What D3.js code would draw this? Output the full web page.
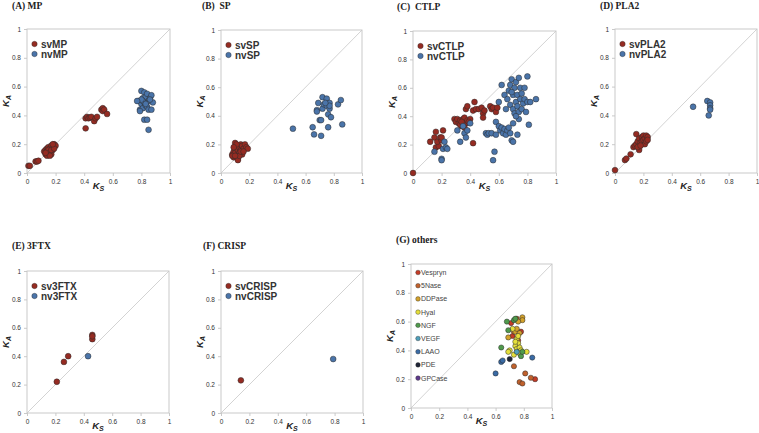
<!DOCTYPE html>
<html><head><meta charset="utf-8">
<script src="https://cdn.jsdelivr.net/npm/d3@7"></script>
<style>body{margin:0;background:#fff}svg{display:block}</style>
</head><body>
<svg id="c" width="759" height="433"></svg>
<script>
// ---- DATA (Ks, Ka) ----
const svMP = [[0.01,0.05],[0.02,0.05],[0.06,0.08],[0.07,0.08],[0.08,0.085],
 [0.12,0.15],[0.13,0.13],[0.13,0.16],[0.14,0.17],[0.14,0.12],[0.15,0.14],[0.15,0.18],[0.16,0.15],[0.16,0.17],
 [0.17,0.19],[0.17,0.13],[0.18,0.16],[0.18,0.18],[0.19,0.2],[0.2,0.19],[0.14,0.15],[0.16,0.12],[0.15,0.16],
 [0.17,0.16],[0.19,0.17],[0.13,0.14],[0.18,0.2],
 [0.41,0.38],[0.42,0.39],[0.43,0.38],[0.44,0.385],[0.45,0.39],[0.41,0.31],[0.47,0.36],[0.48,0.38],[0.49,0.39],
 [0.52,0.44],[0.53,0.45],[0.53,0.43],[0.54,0.44],[0.56,0.41]];
const nvMP = [[0.78,0.5],[0.8,0.57],[0.81,0.52],[0.82,0.56],[0.83,0.53],[0.84,0.55],[0.85,0.5],[0.86,0.52],[0.87,0.54],
 [0.88,0.49],[0.8,0.48],[0.79,0.44],[0.81,0.45],[0.82,0.49],[0.83,0.47],[0.84,0.46],[0.85,0.44],[0.87,0.44],
 [0.79,0.43],[0.81,0.5],[0.82,0.37],[0.84,0.37],[0.85,0.3],[0.86,0.51],[0.83,0.48],[0.8,0.51],[0.77,0.5]];
const svSP = [[0.08,0.13],[0.09,0.15],[0.09,0.11],[0.1,0.21],[0.1,0.17],[0.1,0.14],[0.11,0.19],[0.11,0.12],[0.12,0.16],
 [0.12,0.1],[0.13,0.18],[0.13,0.14],[0.14,0.2],[0.14,0.16],[0.15,0.13],[0.15,0.19],[0.16,0.17],[0.17,0.2],[0.18,0.18],
 [0.19,0.17],[0.12,0.09],[0.11,0.2],[0.09,0.18],[0.08,0.12],[0.13,0.12],[0.14,0.15],[0.16,0.15],[0.1,0.12]];
const nvSP = [[0.51,0.31],[0.65,0.32],[0.66,0.27],[0.68,0.44],[0.68,0.43],[0.69,0.49],[0.7,0.37],[0.71,0.26],[0.71,0.37],
 [0.72,0.53],[0.72,0.45],[0.73,0.48],[0.75,0.52],[0.75,0.47],[0.76,0.32],[0.76,0.41],[0.77,0.49],[0.77,0.45],[0.77,0.47],
 [0.78,0.39],[0.83,0.48],[0.85,0.51],[0.86,0.34],[0.74,0.49]];
const svCTLP = [[0,0],[0.12,0.22],[0.15,0.25],[0.16,0.29],[0.16,0.18],[0.18,0.19],[0.17,0.22],[0.19,0.25],[0.2,0.23],
 [0.21,0.3],[0.2,0.25],[0.29,0.38],[0.3,0.36],[0.31,0.38],[0.32,0.35],[0.33,0.37],[0.34,0.33],[0.35,0.38],[0.35,0.36],
 [0.36,0.39],[0.37,0.35],[0.38,0.37],[0.33,0.34],[0.36,0.32],[0.37,0.45],[0.38,0.47],[0.4,0.38],[0.42,0.44],[0.43,0.5],
 [0.42,0.21],[0.44,0.45],[0.46,0.45],[0.48,0.46],[0.49,0.42],[0.49,0.39],[0.5,0.44],[0.54,0.47],[0.55,0.45],[0.56,0.46],
 [0.58,0.43],[0.59,0.46],[0.39,0.36],[0.34,0.36]];
const nvCTLP = [[0.15,0.15],[0.2,0.1],[0.2,0.09],[0.21,0.17],[0.22,0.22],[0.23,0.18],[0.24,0.17],[0.31,0.3],[0.33,0.22],
 [0.35,0.33],[0.36,0.28],[0.37,0.25],[0.38,0.3],[0.4,0.35],[0.51,0.28],[0.52,0.27],[0.53,0.28],[0.55,0.28],[0.56,0.09],
 [0.57,0.15],[0.58,0.27],[0.58,0.36],[0.6,0.33],[0.61,0.3],[0.62,0.32],[0.63,0.28],[0.64,0.31],[0.65,0.27],[0.66,0.3],
 [0.67,0.32],[0.68,0.28],[0.69,0.23],[0.7,0.22],[0.7,0.35],[0.73,0.27],[0.6,0.5],[0.62,0.62],[0.64,0.55],[0.65,0.45],
 [0.66,0.52],[0.67,0.58],[0.68,0.62],[0.68,0.48],[0.69,0.66],[0.7,0.55],[0.7,0.45],[0.71,0.6],[0.71,0.42],[0.72,0.5],
 [0.72,0.64],[0.73,0.55],[0.73,0.47],[0.74,0.67],[0.74,0.43],[0.75,0.52],[0.75,0.6],[0.76,0.45],[0.76,0.56],[0.77,0.49],
 [0.78,0.52],[0.79,0.43],[0.8,0.68],[0.8,0.5],[0.81,0.34],[0.82,0.5],[0.86,0.52],[0.74,0.38],[0.72,0.4],[0.69,0.57],[0.78,0.6]];
const svPLA2 = [[0,0.02],[0.07,0.09],[0.08,0.1],[0.11,0.13],[0.13,0.18],[0.14,0.19],[0.15,0.27],[0.15,0.2],[0.16,0.22],
 [0.17,0.16],[0.17,0.24],[0.18,0.21],[0.19,0.25],[0.19,0.22],[0.2,0.26],[0.2,0.23],[0.21,0.24],[0.21,0.2],[0.22,0.26],
 [0.22,0.22],[0.23,0.25],[0.23,0.23],[0.16,0.18],[0.18,0.19]];
const nvPLA2 = [[0.55,0.46],[0.65,0.5],[0.66,0.4],[0.67,0.49],[0.67,0.47],[0.67,0.45],[0.67,0.44]];
const sv3FTX = [[0.21,0.22],[0.26,0.36],[0.29,0.4],[0.46,0.55],[0.46,0.52],[0.46,0.54]];
const nv3FTX = [[0.43,0.4]];
const svCRISP = [[0.14,0.23]];
const nvCRISP = [[0.79,0.38]];
const othersNames = ["Vespryn","5Nase","DDPase","Hyal","NGF","VEGF","LAAO","PDE","GPCase"];
const othersValues = [
 [[0.88,0.2],[0.71,0.59],[0.72,0.5],[0.76,0.47],[0.78,0.53]],
 [[0.77,0.18],[0.79,0.17],[0.81,0.24],[0.85,0.21],[0.73,0.29],[0.73,0.53],[0.75,0.62]],
 [[0.79,0.63],[0.79,0.61],[0.76,0.6],[0.69,0.49],[0.74,0.53],[0.77,0.52],[0.75,0.55]],
 [[0.75,0.48],[0.76,0.45],[0.74,0.43],[0.75,0.41],[0.77,0.42],[0.78,0.4],[0.73,0.37],[0.7,0.4],[0.69,0.39],[0.82,0.39],
  [0.76,0.5],[0.74,0.46],[0.72,0.55],[0.77,0.38]],
 [[0.68,0.6],[0.73,0.61],[0.69,0.54],[0.64,0.42],[0.78,0.36],[0.79,0.39],[0.74,0.62]],
 [[0.75,0.39]],
 [[0.6,0.24],[0.64,0.32],[0.65,0.33],[0.86,0.35]],
 [[0.7,0.34]],
 []
];
const tickValues = [0,0.2,0.4,0.6,0.8,1];
const tickLabels = ["0","0.2","0.4","0.6","0.8","1"];
const panelTitles = ["(A) MP","(B)  SP","(C)  CTLP","(D) PLA2","(E) 3FTX","(F) CRISP","(G) others"];

// ---- STYLE ----
const SV = "#952b22", NV = "#4a74a9";
const othersColors = ["#c43b26","#c0612c","#d3a22c","#e5df3a","#4f9a4c","#4f9fba","#3a6ba5","#1e2436","#5e3a8c"];

const layout = [
 {l:27,r:170,t:29,b:173,tx:12,ty:9},
 {l:221,r:362,t:30,b:173,tx:202,ty:9},
 {l:413,r:556,t:31,b:173,tx:397,ty:9.5},
 {l:615,r:757,t:29,b:173,tx:600,ty:9},
 {l:27,r:169,t:271,b:413,tx:12,ty:248.5},
 {l:221,r:363,t:271,b:413,tx:203,ty:248.5},
 {l:411,r:552,t:264,b:408,tx:396,ty:243}
];
const seriesSets = [
 [["svMP",svMP,SV],["nvMP",nvMP,NV]],
 [["svSP",svSP,SV],["nvSP",nvSP,NV]],
 [["svCTLP",svCTLP,SV],["nvCTLP",nvCTLP,NV]],
 [["svPLA2",svPLA2,SV],["nvPLA2",nvPLA2,NV]],
 [["sv3FTX",sv3FTX,SV],["nv3FTX",nv3FTX,NV]],
 [["svCRISP",svCRISP,SV],["nvCRISP",nvCRISP,NV]],
 othersNames.map((n,i)=>[n,othersValues[i],othersColors[i]])
];

const svg = d3.select("#c");
layout.forEach((L,pi)=>{
  const x = d3.scaleLinear().domain([0,1]).range([L.l,L.r]);
  const y = d3.scaleLinear().domain([0,1]).range([L.b,L.t]);
  const g = svg.append("g");
  g.append("text").attr("x",L.tx).attr("y",L.ty).attr("font-family","Liberation Serif, Times New Roman, serif")
   .attr("font-weight","bold").attr("font-size",9.5).attr("fill","#222").attr("xml:space","preserve")
   .style("white-space","pre").text(panelTitles[pi]);
  g.append("rect").attr("x",L.l).attr("y",L.t).attr("width",L.r-L.l).attr("height",L.b-L.t)
   .attr("fill","none").attr("stroke","#c4c4c4").attr("stroke-width",0.9);
  const xa = g.append("g").attr("transform",`translate(0,${L.b})`)
   .call(d3.axisBottom(x).tickValues(tickValues).tickFormat((d,i)=>tickLabels[i]).tickSize(3).tickPadding(3));
  const ya = g.append("g").attr("transform",`translate(${L.l},0)`)
   .call(d3.axisLeft(y).tickValues(tickValues).tickFormat((d,i)=>tickLabels[i]).tickSize(3).tickPadding(3));
  [xa,ya].forEach(a=>{
    a.select(".domain").remove();
    a.selectAll("line").attr("stroke","#c4c4c4").attr("stroke-width",0.9);
    a.selectAll("text").attr("font-family","Liberation Sans, Arial, sans-serif").attr("font-size",6.5).attr("fill","#333");
  });
  g.append("line").attr("x1",x(0)).attr("y1",y(0)).attr("x2",x(1)).attr("y2",y(1))
   .attr("stroke","#c8c8c8").attr("stroke-width",0.8);
  const ks = g.append("text").attr("x",(L.l+L.r)/2).attr("y",L.b+16).attr("text-anchor","middle")
   .attr("font-family","Liberation Sans, Arial, sans-serif").attr("font-weight","bold").attr("font-style","italic")
   .attr("font-size",9.5).attr("fill","#222");
  ks.append("tspan").text("K");
  ks.append("tspan").attr("font-size",7).attr("dy",2).text("S");
  const ka = g.append("text").attr("transform",`translate(${L.l-18},${(L.t+L.b)/2}) rotate(-90)`).attr("text-anchor","middle")
   .attr("font-family","Liberation Sans, Arial, sans-serif").attr("font-weight","bold").attr("font-style","italic")
   .attr("font-size",9.5).attr("fill","#222");
  ka.append("tspan").text("K");
  ka.append("tspan").attr("font-size",7).attr("dy",2).text("A");
  const sets = seriesSets[pi];
  const isOthers = pi===6;
  const R = isOthers?2.6:2.9;
  sets.forEach(([name,vals,col])=>{
    g.append("g").selectAll("circle").data(vals).join("circle")
     .attr("cx",d=>x(d[0])).attr("cy",d=>y(d[1])).attr("r",R)
     .attr("fill",col).attr("stroke","#2a2a2a").attr("stroke-width",0.5);
  });
  sets.forEach(([name,vals,col],i)=>{
    const lx = L.l+ (isOthers?7:7.5);
    const ly = L.t + (isOthers? 8.5 + i*13.2 : 15 + i*10);
    g.append("circle").attr("cx",lx).attr("cy",ly).attr("r",isOthers?2.3:2.7).attr("fill",col)
     .attr("stroke","#2a2a2a").attr("stroke-width",0.4);
    g.append("text").attr("x",lx+(isOthers?3:6.5)).attr("y",ly+(isOthers?2.4:3.5))
     .attr("font-family","Liberation Sans, Arial, sans-serif").attr("font-weight",isOthers?"normal":"bold")
     .attr("font-size",isOthers?7:10).attr("fill",isOthers?"#444":"#333").text(name);
  });
});
</script>
</body></html>
